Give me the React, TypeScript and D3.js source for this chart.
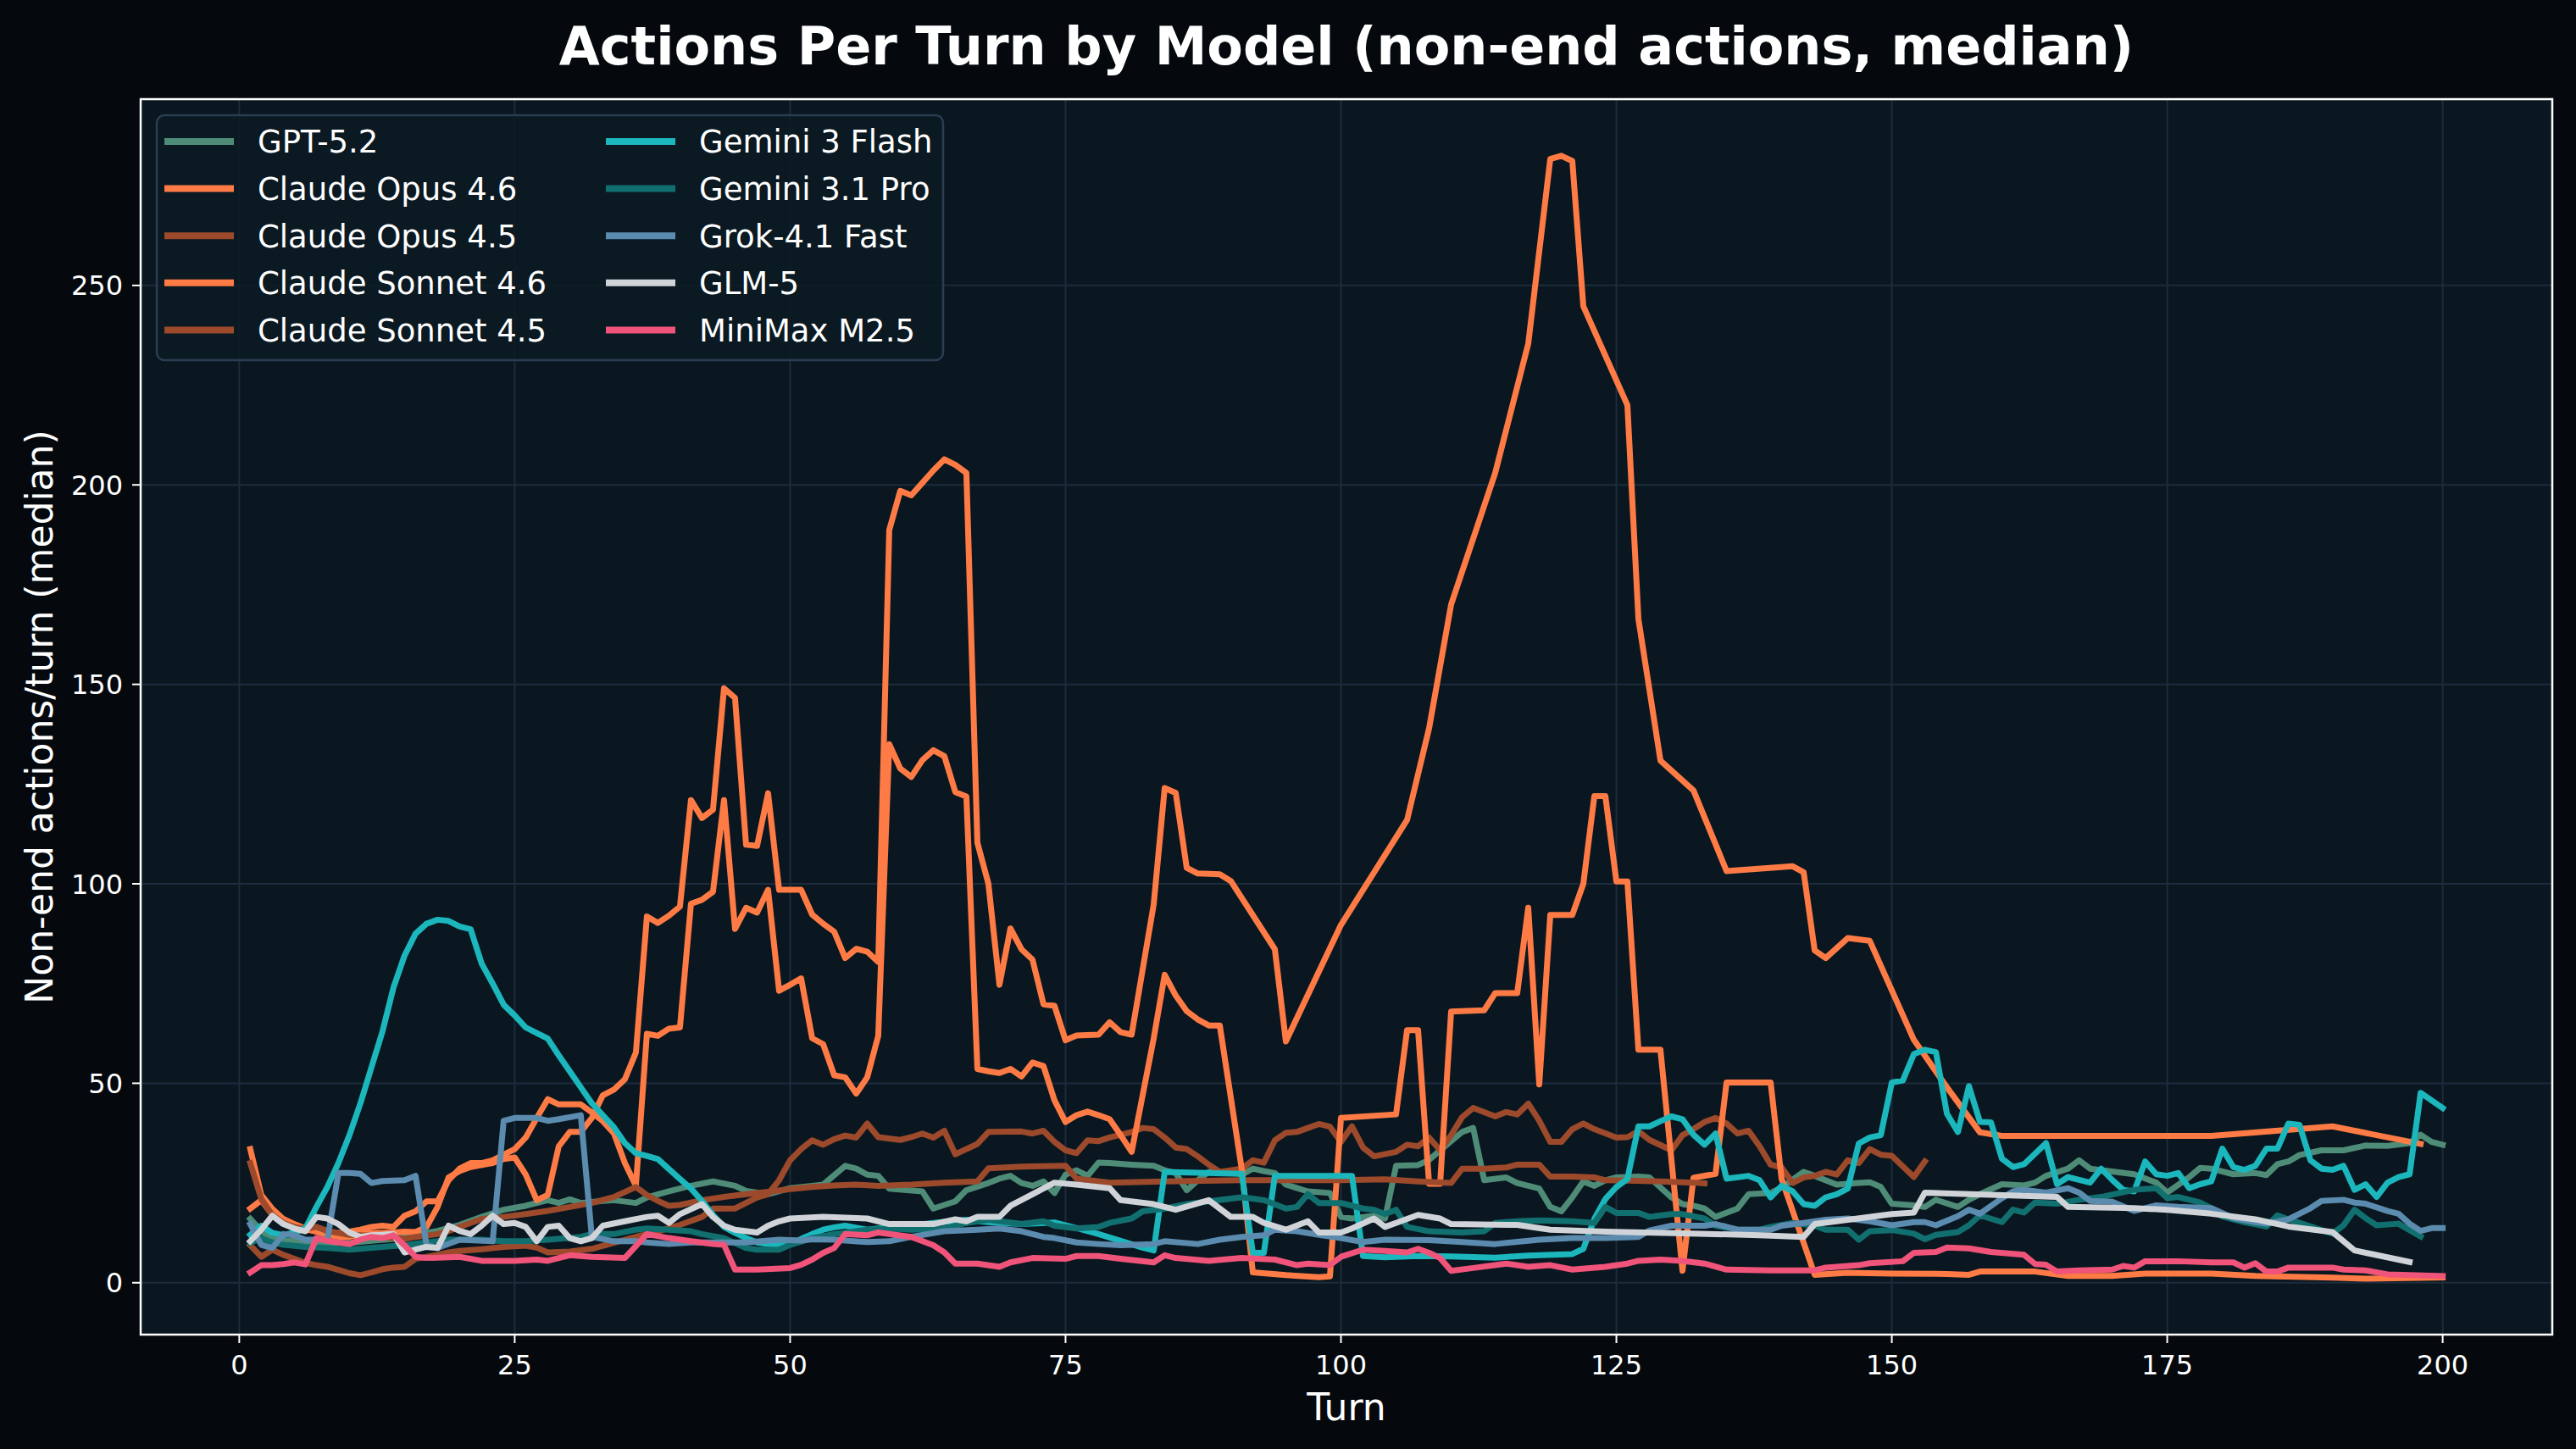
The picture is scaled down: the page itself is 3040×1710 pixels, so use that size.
import { useEffect, useRef } from "react";
import * as d3 from "d3";

type Pt = [number, number];

// [turn, median non-end actions]
const gpt52: Pt[] = [[1,16],[2,13],[3,11],[4,10.5],[5,10.5],[6,10],[8,10],[10,10],[12,10.5],[14,11],[16,12],[18,13],[20,14.5],[22,16.5],[24,18.3],[26,19.3],[28,20.7],[29,20],[30,20.9],[31,20],[33,20.5],[34,20.7],[36,20],[37,21.4],[39,22.9],[41,24.3],[43,25.4],[45,24.3],[46,23],[48,22.2],[50,23.7],[52,24.3],[53,24.6],[55,29.3],[56,28.6],[57,27.1],[58,26.8],[59,23.6],[62,22.9],[63,18.6],[65,20.4],[66,23.2],[68,25],[69,26.1],[70,26.8],[71,25],[72,24.3],[73,25.4],[74,22.5],[75,27.1],[76,28.2],[77,26.8],[78,30.1],[79,30],[81,29.6],[83,29.3],[84,28.2],[85,27.5],[86,23.2],[87,25.7],[88,27.8],[90,27.8],[91,27.1],[92,28.6],[93,28],[94,27.5],[95,24.6],[97,22.9],[99,22.5],[100,16.5],[101,16.1],[103,16.8],[104,16.1],[105,29.3],[107,29.5],[108,30.8],[109,33.2],[111,37.8],[112,38.8],[113,25.7],[115,26.4],[116,25],[118,23.6],[119,19],[120,17.9],[121,21.4],[122,25.4],[123,24.3],[124,25.7],[125,26.4],[127,26.6],[128,26.4],[130,21.4],[131,19.7],[132,19.3],[133,18.6],[134,16.5],[136,18.6],[137,22.2],[139,22.5],[140,23.9],[142,27.8],[143,26.8],[145,24.6],[147,25],[148,25.2],[149,24],[150,19.8],[152,19.4],[153,19],[154,20.8],[156,19],[157,20.8],[158,22.2],[160,24.7],[162,24.4],[163,25.1],[164,26.8],[166,28.6],[167,30.7],[168,28.6],[170,27.9],[172,27.2],[174,25.1],[175,22.6],[177,26.5],[178,28.8],[179,28.6],[181,27.2],[183,27.5],[184,27],[185,29.7],[186,30.4],[187,32],[189,33.2],[191,33.2],[193,34.4],[195,34.3],[197,35],[198,37.1],[199,35.3],[200,34.6]];

const opus46: Pt[] = [[1,33.5],[2,22],[3,18.5],[4,16],[5,14.7],[6,13.6],[7,12.8],[8,12],[9,11.5],[10,11.5],[11,12],[12,12.5],[13,12.5],[14,12.6],[15,12.8],[16,12.7],[17,14],[18,19],[19,26.4],[20,28],[21,29],[22,29.5],[23,30],[24,31],[25,31.4],[26,27.1],[27,20.7],[28,22],[29,34.2],[30,37.8],[31,37.8],[32,41.3],[33,47],[34,48.4],[35,51],[36,57.7],[37,91.8],[38,90.2],[39,92],[40,94.3],[41,121],[42,116.5],[43,118.6],[44,149],[45,146.6],[46,109.8],[47,109.5],[48,122.7],[49,98.5],[51,98.5],[52,92.3],[53,90],[54,88],[55,81.4],[56,83.7],[57,83],[58,80.4],[59,188.7],[60,198.5],[61,197.4],[62,200.5],[63,203.6],[64,206.4],[65,205],[66,203],[67,110.3],[68,100],[69,74.7],[70,88.8],[71,83.6],[72,81],[73,69.8],[74,69.4],[75,60.8],[76,62],[78,62.2],[79,65.3],[80,62.8],[81,62.2],[83,94.8],[84,124],[85,122.8],[86,104],[87,102.6],[89,102.4],[90,100.7],[94,83.6],[95,60.5],[100,89.7],[106,116],[108,139],[110,170],[114,203],[117,235.4],[119,281.7],[120,282.5],[121,281.2],[122,244.8],[126,220],[127,166.4],[129,130.9],[132,123.4],[135,103.2],[141,104.4],[142,102.9],[143,83.3],[144,81.4],[146,86.4],[148,85.7],[152,60.9],[155,49],[158,37.7],[160,36.8],[179,36.8],[190,39.2],[198,34.8]];

const opus45: Pt[] = [[1,9.4],[2,6.5],[3,8.3],[4,7],[5,6],[6,5],[7,4.4],[8,4],[9,3.2],[10,2.4],[11,1.9],[12,2.6],[13,3.4],[14,3.8],[15,4],[16,6],[17,6.5],[18,7],[19,7.6],[20,8],[22,8.4],[24,9],[26,9.3],[27,8.8],[28,7.6],[30,7.8],[32,8.5],[34,10],[36,11.5],[38,12.9],[40,14.5],[42,16.5],[43,18.6],[45,18.6],[46,20],[47,21.4],[48,22.2],[49,25.7],[50,30.7],[51,33.5],[52,35.7],[53,34.6],[54,36],[55,36.9],[56,36.4],[57,39.9],[58,36.5],[60,35.8],[61,36.5],[62,37.4],[63,36.4],[64,38.1],[65,32.2],[67,34.8],[68,37.8],[71,37.9],[72,37.4],[73,38.1],[74,35.3],[75,33.2],[76,32.5],[77,35.7],[78,35.5],[79,36.4],[81,37.8],[82,38.8],[83,38.5],[84,36.4],[85,33.9],[86,33.5],[87,31.7],[88,29.6],[89,27.8],[91,28.6],[92,30.7],[93,30.1],[94,35.7],[95,37.6],[96,37.8],[97,38.8],[98,39.8],[99,39.1],[100,35.3],[101,39.2],[102,33.9],[103,31.7],[105,32.8],[106,34.6],[107,34.2],[108,36.4],[109,33.2],[110,37],[111,41.5],[112,43.8],[114,41.7],[115,42.8],[116,42.2],[117,44.9],[118,40.6],[119,35.3],[120,35.3],[121,38.5],[122,39.9],[123,38.5],[125,36.4],[126,36.5],[127,38],[128,35.8],[130,33.2],[131,37],[132,38.5],[133,40.3],[134,41.3],[135,39.9],[136,37.4],[137,38.1],[138,34.2],[139,29.6],[140,28.9],[141,25],[142,26.4],[143,26.8],[144,27.8],[145,27.1],[146,30.7],[147,30],[148,33.5],[149,32.1],[150,31.8],[152,26.5],[153,30.4]];

const sonnet46: Pt[] = [[1,18.6],[2,20.7],[3,17],[4,15],[5,14],[6,13.3],[7,13],[8,12.5],[9,12.5],[10,12.8],[11,13.3],[12,14],[13,14.3],[14,14],[15,16.8],[16,17.9],[17,20.4],[18,20.4],[19,25.7],[20,28.6],[21,30],[22,30],[23,30.7],[24,32.1],[25,33.5],[26,36.4],[27,41.3],[28,46],[29,44.7],[31,44.7],[32,42.7],[33,40.5],[34,37.5],[35,30],[36,24.3],[37,62.4],[38,61.9],[39,63.7],[40,64],[41,95],[42,96],[43,98],[44,121],[45,88.7],[46,94],[47,92.8],[48,98.5],[49,73.2],[50,74.7],[51,76.3],[52,61.3],[53,59.8],[54,52],[55,51.5],[56,47.4],[57,51.5],[58,61.9],[59,135],[60,128.9],[61,126.8],[62,131],[63,133.5],[64,132],[65,123],[66,121.9],[67,53.6],[68,53],[69,52.6],[70,53.6],[71,51.7],[72,55.2],[73,54.3],[74,45.7],[75,40.3],[76,42],[77,42.9],[78,42],[79,41],[80,37],[81,32.8],[83,61.2],[84,77.2],[85,72],[86,68.1],[87,66],[88,64.5],[89,64.5],[91,28.4],[92,2.6],[95,1.9],[98,1.4],[99,1.6],[100,41.3],[105,42.2],[106,63.3],[107,63.3],[108,24.8],[109,24.8],[110,68],[113,68.3],[114,72.6],[116,72.6],[117,94],[118,49.7],[119,92.2],[121,92.2],[122,100],[123,122],[124,122],[125,100.6],[126,100.6],[127,58.4],[129,58.4],[131,3],[132,26.3],[134,27.3],[135,50.2],[139,50.2],[140,26],[143,2],[146,2.5],[150,2.3],[155,2.2],[157,2],[158,2.8],[163,2.8],[166,1.7],[170,1.7],[173,2.3],[179,2.3],[183,1.7],[190,1.3],[193,1],[200,1.3]];

const sonnet45: Pt[] = [[1,30],[2,21],[3,17],[4,15],[5,14],[6,13.5],[7,14],[8,13],[9,12.5],[10,12],[12,11.8],[14,11.2],[15,11],[16,11.5],[18,12.2],[19,13],[20,14],[21,15],[22,16],[24,16.5],[26,17.2],[28,18],[30,19],[32,20],[34,21.5],[36,24],[37,22],[38,20.5],[39,19.3],[40,19.5],[42,20.7],[44,21.5],[46,22.2],[48,22.8],[50,23.5],[52,24],[54,24.4],[56,24.6],[58,24.3],[61,24.6],[64,25.1],[67,25.4],[68,28.7],[71,29.1],[75,29.3],[76,26.1],[79,25.1],[84,25.4],[91,25.7],[100,25.7],[104,25.9],[107,25.4],[110,25],[111,28.6],[113,28.6],[115,28.9],[116,29.6],[118,29.6],[119,26.6],[121,26.6],[123,26.4],[124,25.7],[126,25.6],[129,25.4],[132,25.1],[133,24.9]];

const gemini3Flash: Pt[] = [[1,12],[2,14.3],[3,12.5],[4,11.9],[5,12.6],[6,13.6],[7,19],[8,24],[9,30],[10,37],[11,45],[12,54],[13,63],[14,74],[15,82],[16,87.5],[17,90],[18,91],[19,90.7],[20,89.3],[21,88.6],[22,80],[23,75],[24,69.7],[25,67],[26,64],[27,62.6],[28,61.2],[29,57],[30,53],[31,49],[32,45],[33,42],[34,39],[35,35],[36,32.5],[37,31.8],[38,31],[39,28.5],[40,26],[41,23.6],[42,20.5],[43,17],[44,14],[45,12.5],[46,11.2],[47,10.1],[48,9.7],[49,9.5],[50,9.6],[51,11],[52,12.2],[53,13.3],[54,13.9],[55,14.3],[57,13.3],[58,13.6],[61,14.3],[63,15],[66,15.8],[68,15.2],[71,14.7],[74,15.1],[76,13.7],[78,12.2],[80,10.5],[82,8.8],[83,8.1],[84,27.8],[91,27.3],[92,7.5],[93,7.5],[94,26.8],[101,26.8],[102,6.7],[104,6.4],[107,6.7],[110,6.6],[114,6.3],[117,6.8],[121,7.2],[122,8.5],[123,16],[124,21],[125,24],[126,26],[127,39.2],[128,39.2],[129,40.5],[130,41.7],[131,41],[132,37.1],[133,34.6],[134,37.4],[135,26.1],[137,26.8],[138,25.7],[139,21.4],[140,24.3],[141,22.9],[142,19.7],[143,19.3],[144,21.4],[145,22.2],[146,23.6],[147,34.9],[148,36.4],[149,37],[150,50.2],[151,50.7],[152,57.3],[153,58.4],[154,57.8],[155,42.4],[156,37.8],[157,49.3],[158,40.3],[159,40.2],[160,31.1],[161,29],[162,29.7],[164,35],[165,24.7],[166,26.5],[168,25.1],[169,28.6],[170,25.8],[171,23.3],[172,22.9],[173,30.4],[174,27.2],[175,26.8],[176,27.5],[177,23.7],[178,24.7],[179,25.4],[180,33.6],[181,29],[182,28.3],[183,29.3],[184,33.6],[185,33.6],[186,39.9],[187,39.6],[188,30.7],[189,28.6],[190,28.3],[191,29.3],[192,23.3],[193,24.7],[194,21.5],[195,25.1],[196,26.5],[197,27.2],[198,47.6],[200,43.8]];

const gemini31Pro: Pt[] = [[1,10],[2,11.2],[3,10.1],[4,9.5],[6,9],[8,8.7],[10,8.3],[13,9],[15,9.4],[17,10.1],[19,10.8],[22,10.8],[24,10.4],[26,10.4],[28,10.8],[31,11.5],[32,12.2],[34,12.2],[36,13.3],[37,13.6],[39,13.3],[41,12.9],[42,12.2],[44,11.2],[46,8.7],[47,8.3],[49,8.3],[50,9.5],[52,11.2],[54,12.2],[57,13.3],[59,13.6],[61,13.3],[64,13.6],[66,15],[68,15.8],[71,14.7],[73,15.4],[74,14.3],[76,13.6],[78,14],[79,15],[81,16.1],[82,17.9],[84,18.6],[86,19.7],[88,20.4],[90,21.1],[91,21.4],[92,21.1],[93,20.7],[95,18.6],[96,19],[97,22.2],[98,20],[100,20],[102,18.6],[103,18.3],[104,17.2],[105,18.3],[106,14],[108,12.9],[111,12.6],[113,12.9],[114,15],[116,15.4],[118,15.6],[121,15.4],[123,15],[124,19],[125,17.5],[127,17.5],[128,16.5],[130,17.2],[131,17.2],[133,16.1],[134,14.3],[136,13.3],[138,13.3],[139,14],[141,15],[143,14.3],[144,13.3],[146,13.3],[147,10.8],[148,12.9],[150,13.2],[152,12.3],[153,10.9],[154,12],[156,12.7],[157,14.4],[158,16.9],[160,15.2],[161,18.3],[162,17.6],[163,20.1],[165,19.8],[167,20.8],[169,21.5],[172,23.3],[174,23.7],[175,21.2],[176,21.5],[178,20.1],[179,18.7],[180,16.6],[182,15.2],[184,14.1],[185,16.9],[186,15.9],[188,14.1],[190,12.3],[191,14.4],[192,18.3],[193,16.2],[194,14.4],[196,14.8],[198,11.6]];

const grok41Fast: Pt[] = [[1,14.7],[2,9.5],[3,8.7],[4,12.2],[5,11.9],[6,10.8],[8,10.8],[9,27.5],[10,27.5],[11,27.3],[12,25],[13,25.5],[15,25.7],[16,26.8],[17,9.4],[18,8.7],[20,10.8],[23,10.4],[24,40.6],[25,41.3],[27,41.3],[28,40.6],[29,41],[31,42],[32,11.5],[34,10.4],[36,10.4],[37,10.1],[39,9.7],[41,10.1],[46,10.1],[49,10.8],[51,10.6],[52,10.9],[54,10.8],[57,10.2],[59,10.4],[61,11.5],[64,12.9],[67,13.3],[69,13.6],[71,12.9],[73,11.5],[74,11.2],[76,10.1],[78,9.7],[80,9.4],[83,9.7],[84,10.4],[87,9.7],[89,10.8],[91,11.5],[93,11.9],[94,13.3],[96,12.9],[98,12],[100,11.2],[102,10.2],[104,10.8],[108,10.7],[111,10.2],[114,9.7],[118,10.8],[121,11.2],[124,11.2],[127,11.5],[128,13.1],[130,14.3],[133,14.3],[134,14.7],[136,13.3],[139,13.3],[140,14.3],[142,15],[144,15.8],[146,16.1],[148,15.4],[150,14.4],[152,15.2],[153,15.2],[154,14.4],[156,16.7],[157,18.3],[158,17.3],[160,21.2],[161,22.9],[162,23.3],[164,22.6],[166,23.7],[167,22.6],[168,20.5],[170,20.3],[172,18],[174,19.4],[176,19],[179,18.7],[181,16.2],[183,15.2],[184,14.8],[186,15.9],[187,17.3],[188,18.7],[189,20.5],[191,20.8],[192,20.1],[193,19.8],[195,18],[196,17.3],[197,14.8],[198,13],[199,13.7],[200,13.7]];

const glm5: Pt[] = [[1,10.4],[2,13.3],[3,16.8],[4,14.7],[5,13.6],[6,12.9],[7,16.5],[8,16.1],[9,14.7],[10,12.6],[11,11.5],[12,11.9],[13,12],[14,12.2],[15,7.6],[16,8.3],[17,9],[18,8.7],[19,14.3],[20,13],[21,12.2],[22,14.3],[23,16.8],[24,14.7],[25,15],[26,14],[27,10.4],[28,14],[29,14.3],[30,11.2],[31,10.4],[32,11.2],[33,14.3],[35,15.4],[37,16.5],[38,16.8],[39,15],[40,17.2],[42,19.7],[43,16.5],[44,14.3],[45,13.3],[47,12.6],[48,14.3],[49,15.4],[50,16.1],[53,16.5],[57,16.1],[59,14.7],[63,14.7],[65,15.9],[66,15.4],[67,16.5],[69,16.5],[70,19.3],[72,22.2],[74,25.1],[76,24.6],[79,23.7],[80,20.7],[83,19.7],[85,18.3],[88,20.7],[90,16.5],[92,16.5],[93,15],[95,13.3],[97,15.4],[98,12.6],[100,12.6],[101,13.6],[103,16.1],[104,14],[105,15],[107,17],[109,16.1],[110,14.7],[116,14.5],[119,13.3],[124,12.8],[131,12.4],[138,11.9],[142,11.5],[143,14.7],[146,15.8],[150,17.2],[152,17.6],[153,22.6],[165,21.5],[166,19],[172,18.7],[175,18.3],[179,17.3],[183,15.9],[186,14.1],[190,12.7],[192,8.1],[197,5.2]];

const minimaxM25: Pt[] = [[1,2.6],[2,4.4],[3,4.4],[4,4.7],[5,5.1],[6,4.6],[7,11.2],[8,10.5],[9,10.1],[10,9.7],[11,10.8],[12,11.5],[13,11.2],[14,11.9],[15,9.4],[16,6.5],[17,6.2],[18,6.3],[20,6.5],[22,5.5],[25,5.5],[27,5.8],[28,5.5],[30,6.9],[32,6.5],[35,6.2],[37,12.2],[39,11.2],[41,10.4],[43,9.7],[44,9.5],[45,3.3],[47,3.3],[50,3.7],[51,4.5],[52,5.8],[53,7.5],[54,8.7],[55,12.2],[57,11.9],[58,12.6],[61,11.5],[63,9.4],[64,7.6],[65,4.8],[67,4.8],[69,4],[70,5.1],[72,6.2],[75,6],[76,6.7],[78,6.7],[80,6],[83,5.1],[84,6.9],[85,6.2],[88,5.5],[91,6.2],[94,5.8],[96,4.4],[97,4.8],[99,4.4],[100,6.5],[102,8.3],[104,8],[106,7.6],[107,8.5],[108,7.5],[109,6.2],[110,3],[112,3.7],[115,4.8],[117,4],[119,4.4],[121,3.3],[124,4],[126,4.8],[127,5.5],[129,5.8],[131,5.5],[133,4.8],[135,3.3],[139,3.1],[143,3.1],[144,3.8],[147,4.4],[148,4.9],[151,5.4],[152,7.5],[154,7.7],[155,8.8],[157,8.6],[159,7.7],[162,7],[163,4.7],[164,4.5],[165,2.8],[167,3.1],[170,3.3],[171,4.2],[172,3.8],[173,5.4],[176,5.4],[179,5.1],[181,5.1],[182,3.8],[183,4.9],[184,2.8],[185,2.8],[186,3.8],[190,3.8],[191,3.3],[193,3.1],[195,2.1],[200,1.7]];

const xTicks = [0, 25, 50, 75, 100, 125, 150, 175, 200];
const yTicks = [0, 50, 100, 150, 200, 250];

const series = [
  { name: "GPT-5.2", color: "#4e8c78", data: gpt52 },
  { name: "Claude Opus 4.6", color: "#ff7b45", data: opus46 },
  { name: "Claude Opus 4.5", color: "#9c4a2b", data: opus45 },
  { name: "Claude Sonnet 4.6", color: "#ff7b45", data: sonnet46 },
  { name: "Claude Sonnet 4.5", color: "#9c4a2b", data: sonnet45 },
  { name: "Gemini 3 Flash", color: "#1bb7bd", data: gemini3Flash },
  { name: "Gemini 3.1 Pro", color: "#11706f", data: gemini31Pro },
  { name: "Grok-4.1 Fast", color: "#5b8bae", data: grok41Fast },
  { name: "GLM-5", color: "#d0d4d9", data: glm5 },
  { name: "MiniMax M2.5", color: "#f0547a", data: minimaxM25 },
];

const FONT = "'DejaVu Sans', sans-serif";

export default function App() {
  const svgRef = useRef<SVGSVGElement | null>(null);

  useEffect(() => {
    if (!svgRef.current) return;
    document.body.style.margin = "0";
    document.body.style.background = "#05090e";

    const width = 3040;
    const height = 1710;
    const plot = { left: 166, top: 117, right: 3012, bottom: 1575 };

    const svg = d3.select(svgRef.current).attr("width", width).attr("height", height);
    svg.selectAll("*").remove();

    svg.append("rect").attr("width", width).attr("height", height).attr("fill", "#05090e");

    const x = d3.scaleLinear().domain([-8.95, 209.95]).range([plot.left, plot.right]);
    const y = d3.scaleLinear().domain([-13, 296.7]).range([plot.bottom, plot.top]);

    // Axes background
    svg
      .append("rect")
      .attr("x", plot.left)
      .attr("y", plot.top)
      .attr("width", plot.right - plot.left)
      .attr("height", plot.bottom - plot.top)
      .attr("fill", "#0a1720");

    svg
      .append("defs")
      .append("clipPath")
      .attr("id", "plot-clip")
      .append("rect")
      .attr("x", plot.left)
      .attr("y", plot.top)
      .attr("width", plot.right - plot.left)
      .attr("height", plot.bottom - plot.top);

    // Grid
    const grid = svg.append("g").attr("stroke", "#1d2c3c").attr("stroke-width", 2);
    grid
      .selectAll("line.vx")
      .data(xTicks)
      .join("line")
      .attr("class", "vx")
      .attr("x1", (d) => x(d))
      .attr("x2", (d) => x(d))
      .attr("y1", plot.top)
      .attr("y2", plot.bottom);
    grid
      .selectAll("line.hy")
      .data(yTicks)
      .join("line")
      .attr("class", "hy")
      .attr("x1", plot.left)
      .attr("x2", plot.right)
      .attr("y1", (d) => y(d))
      .attr("y2", (d) => y(d));

    // Lines
    const line = d3
      .line<Pt>()
      .x((d) => x(d[0]))
      .y((d) => y(d[1]));

    svg
      .append("g")
      .attr("clip-path", "url(#plot-clip)")
      .selectAll("path")
      .data(series)
      .join("path")
      .attr("d", (s) => line(s.data))
      .attr("fill", "none")
      .attr("stroke", (s) => s.color)
      .attr("stroke-width", 7)
      .attr("stroke-linejoin", "round")
      .attr("stroke-linecap", "square");

    // Spines
    svg
      .append("rect")
      .attr("x", plot.left)
      .attr("y", plot.top)
      .attr("width", plot.right - plot.left)
      .attr("height", plot.bottom - plot.top)
      .attr("fill", "none")
      .attr("stroke", "#ffffff")
      .attr("stroke-width", 2.5);

    // Ticks and labels
    const xAxis = svg.append("g");
    xAxis
      .selectAll("line")
      .data(xTicks)
      .join("line")
      .attr("x1", (d) => x(d))
      .attr("x2", (d) => x(d))
      .attr("y1", plot.bottom)
      .attr("y2", plot.bottom + 10)
      .attr("stroke", "#ffffff")
      .attr("stroke-width", 2);
    xAxis
      .selectAll("text")
      .data(xTicks)
      .join("text")
      .attr("x", (d) => x(d))
      .attr("y", plot.bottom + 47)
      .attr("text-anchor", "middle")
      .style("font-family", FONT)
      .style("font-size", "32px")
      .attr("fill", "#ffffff")
      .text((d) => d);

    const yAxis = svg.append("g");
    yAxis
      .selectAll("line")
      .data(yTicks)
      .join("line")
      .attr("x1", plot.left - 10)
      .attr("x2", plot.left)
      .attr("y1", (d) => y(d))
      .attr("y2", (d) => y(d))
      .attr("stroke", "#ffffff")
      .attr("stroke-width", 2);
    yAxis
      .selectAll("text")
      .data(yTicks)
      .join("text")
      .attr("x", plot.left - 21)
      .attr("y", (d) => y(d))
      .attr("dy", "0.36em")
      .attr("text-anchor", "end")
      .style("font-family", FONT)
      .style("font-size", "32px")
      .attr("fill", "#ffffff")
      .text((d) => d);

    // Axis labels
    svg
      .append("text")
      .attr("x", (plot.left + plot.right) / 2)
      .attr("y", 1676)
      .attr("text-anchor", "middle")
      .style("font-family", FONT)
      .style("font-size", "44px")
      .attr("fill", "#ffffff")
      .text("Turn");

    svg
      .append("text")
      .attr("transform", `translate(62,${(plot.top + plot.bottom) / 2}) rotate(-90)`)
      .attr("text-anchor", "middle")
      .style("font-family", FONT)
      .style("font-size", "44px")
      .attr("fill", "#ffffff")
      .text("Non-end actions/turn (median)");

    // Title
    svg
      .append("text")
      .attr("x", (plot.left + plot.right) / 2)
      .attr("y", 76)
      .attr("text-anchor", "middle")
      .style("font-family", FONT)
      .style("font-size", "62px")
      .style("font-weight", "700")
      .attr("fill", "#ffffff")
      .text("Actions Per Turn by Model (non-end actions, median)");

    // Legend
    const legend = svg.append("g");
    legend
      .append("rect")
      .attr("x", 185)
      .attr("y", 136)
      .attr("width", 928)
      .attr("height", 289)
      .attr("rx", 9)
      .attr("fill", "#0c1a23")
      .attr("fill-opacity", 0.85)
      .attr("stroke", "#2b3d52")
      .attr("stroke-width", 2.5);

    const rowH = 55.6;
    const items = legend
      .selectAll("g.item")
      .data(series)
      .join("g")
      .attr("class", "item")
      .attr("transform", (_, i) => {
        const col = i < 5 ? 0 : 1;
        const row = i % 5;
        return `translate(${col === 0 ? 194 : 715},${167 + row * rowH})`;
      });
    items
      .append("line")
      .attr("x1", 0)
      .attr("x2", 82)
      .attr("stroke", (s) => s.color)
      .attr("stroke-width", 8);
    items
      .append("text")
      .attr("x", 110)
      .attr("dy", "0.36em")
      .style("font-family", FONT)
      .style("font-size", "37px")
      .attr("fill", "#ffffff")
      .text((s) => s.name);
  }, []);

  return <svg ref={svgRef} style={{ display: "block" }} />;
}
